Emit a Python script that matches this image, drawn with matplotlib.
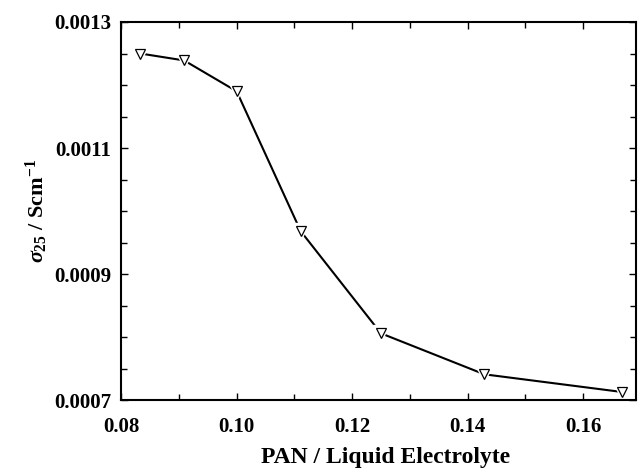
import matplotlib
matplotlib.use("Agg")
import matplotlib.pyplot as plt
from matplotlib.ticker import FixedLocator, MultipleLocator, FormatStrFormatter

plt.rcParams['font.family'] = ['Liberation Serif', 'DejaVu Serif']
plt.rcParams['font.weight'] = 'bold'
plt.rcParams['mathtext.fontset'] = 'custom'
plt.rcParams['mathtext.rm'] = 'Liberation Serif:bold'
plt.rcParams['mathtext.it'] = 'Liberation Serif:bold:italic'
plt.rcParams['mathtext.bf'] = 'Liberation Serif:bold'

# PAN / liquid electrolyte ratio vs conductivity at 25 C
ratio = [0.0833, 0.0909, 0.1000, 0.1111, 0.1250, 0.1429, 0.1667]
sigma25 = [0.001250, 0.001239, 0.001190, 0.000968, 0.000806, 0.000741, 0.000713]

yticks = [0.0007, 0.0009, 0.0011, 0.0013]

fig = plt.figure(figsize=(6.38, 4.68), dpi=100)
ax = fig.add_axes([0.19, 0.145, 0.807, 0.808])

ax.plot(ratio, sigma25, color='black', lw=1.5, zorder=1)
# white halo so the line stops short of each marker
ax.plot(ratio, sigma25, ls='none', marker='v', ms=12, mfc='white', mec='white', zorder=2)
ax.plot(ratio, sigma25, ls='none', marker='v', ms=6.5, mfc='white', mec='black', mew=0.9, zorder=3)

ax.set_xlim(0.08, 0.1692)
ax.set_ylim(0.0007, 0.0013)
ax.xaxis.set_major_locator(MultipleLocator(0.02))
ax.xaxis.set_minor_locator(MultipleLocator(0.01))
ax.yaxis.set_major_locator(FixedLocator(yticks))
ax.yaxis.set_minor_locator(MultipleLocator(0.00005))
ax.xaxis.set_major_formatter(FormatStrFormatter('%.2f'))
ax.yaxis.set_major_formatter(FormatStrFormatter('%.4f'))

ax.tick_params(which='both', direction='in', top=True, right=True, width=1.0)
ax.tick_params(which='major', length=5, labelsize=15)
ax.tick_params(axis='x', which='major', pad=12)
ax.tick_params(axis='y', which='major', pad=7)
ax.tick_params(which='minor', length=4)
for s in ax.spines.values():
    s.set_linewidth(1.5)

ax.set_xlabel('PAN / Liquid Electrolyte', fontsize=17, fontweight='bold')
ax.xaxis.set_label_coords(0.513, -0.125)
ax.set_ylabel(r'$\sigma_{25}$ / Scm$^{-1}$', fontsize=16, fontweight='bold', labelpad=3)

fig.savefig('out.png', dpi=100)
